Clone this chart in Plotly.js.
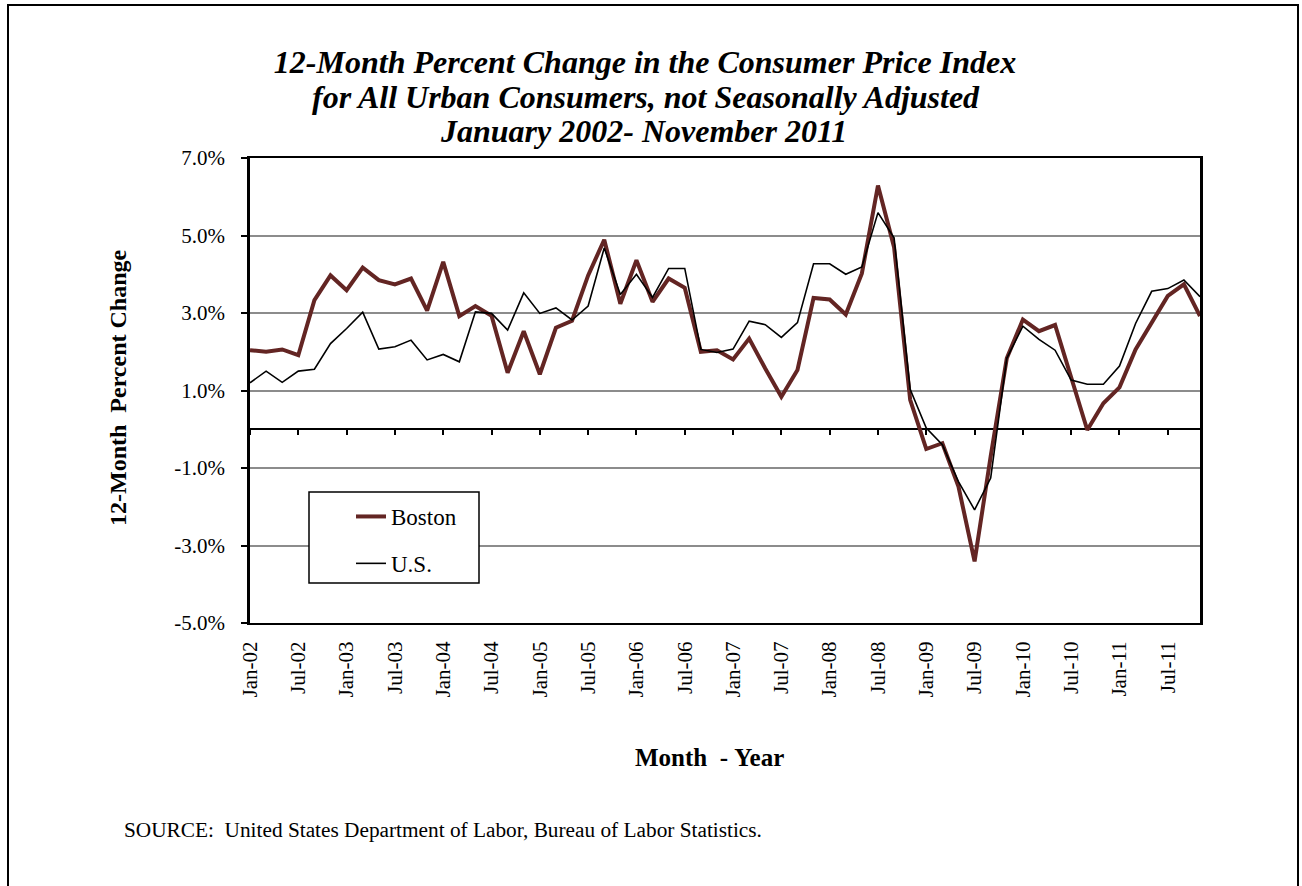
<!DOCTYPE html>
<html>
<head>
<meta charset="utf-8">
<script src="https://cdn.plot.ly/plotly-3.0.1.min.js"></script>
<style>
html, body { margin: 0; padding: 0; background: #ffffff; overflow: hidden; }
#wrap { position: relative; width: 1302px; height: 886px; }
#chart { width: 1302px; height: 886px; }
#frame { position: absolute; left: 7px; top: 4px; width: 1288px; height: 1000px; border: 2px solid #000; pointer-events: none; }
</style>
</head>
<body>
<div id="wrap">
<div id="chart"></div>
<div id="frame"></div>
</div>
<script>
// Bimonthly categories, January 2002 - November 2011
const categories = [
  "Jan-02","Mar-02","May-02","Jul-02","Sep-02","Nov-02",
  "Jan-03","Mar-03","May-03","Jul-03","Sep-03","Nov-03",
  "Jan-04","Mar-04","May-04","Jul-04","Sep-04","Nov-04",
  "Jan-05","Mar-05","May-05","Jul-05","Sep-05","Nov-05",
  "Jan-06","Mar-06","May-06","Jul-06","Sep-06","Nov-06",
  "Jan-07","Mar-07","May-07","Jul-07","Sep-07","Nov-07",
  "Jan-08","Mar-08","May-08","Jul-08","Sep-08","Nov-08",
  "Jan-09","Mar-09","May-09","Jul-09","Sep-09","Nov-09",
  "Jan-10","Mar-10","May-10","Jul-10","Sep-10","Nov-10",
  "Jan-11","Mar-11","May-11","Jul-11","Sep-11","Nov-11"
];

// 12-month percent change, Boston
const boston = [
  2.04, 2.00, 2.06, 1.91, 3.33, 3.97,
  3.59, 4.17, 3.85, 3.74, 3.89, 3.06,
  4.32, 2.92, 3.18, 2.93, 1.46, 2.53,
  1.42, 2.62, 2.80, 3.97, 4.89, 3.24,
  4.36, 3.29, 3.89, 3.65, 2.00, 2.04,
  1.80, 2.34, 1.57, 0.84, 1.53, 3.39,
  3.35, 2.96, 4.02, 6.29, 4.70, 0.76,
  -0.51, -0.36, -1.48, -3.41, -0.70, 1.83,
  2.83, 2.53, 2.69, 1.30, -0.02, 0.67,
  1.08, 2.06, 2.73, 3.44, 3.74, 2.92
];

// 12-month percent change, U.S.
const us = [
  1.20, 1.50, 1.21, 1.50, 1.55, 2.21,
  2.60, 3.02, 2.07, 2.13, 2.30, 1.79,
  1.93, 1.74, 3.03, 2.99, 2.56, 3.52,
  2.99, 3.13, 2.82, 3.18, 4.68, 3.48,
  4.00, 3.40, 4.15, 4.15, 2.06, 1.98,
  2.07, 2.79, 2.70, 2.37, 2.75, 4.27,
  4.27, 4.00, 4.19, 5.59, 4.94, 1.03,
  0.03, -0.40, -1.35, -2.08, -1.26, 1.83,
  2.66, 2.32, 2.04, 1.27, 1.16, 1.16,
  1.63, 2.73, 3.56, 3.63, 3.85, 3.42
];

// Axis tick labels
const xTickLabels = ["Jan-02","Jul-02","Jan-03","Jul-03","Jan-04","Jul-04","Jan-05","Jul-05",
  "Jan-06","Jul-06","Jan-07","Jul-07","Jan-08","Jul-08","Jan-09","Jul-09",
  "Jan-10","Jul-10","Jan-11","Jul-11"];
const yTickVals = [-5, -3, -1, 1, 3, 5, 7];
const yTickText = ["-5.0%","-3.0%","-1.0%","1.0%","3.0%","5.0%","7.0%"];

const seriesNames = ["Boston", "U.S."];
const titleLines = [
  "12-Month Percent Change in the Consumer Price Index",
  "for All Urban Consumers, not Seasonally Adjusted",
  "January 2002- November 2011"
];
const yTitle = "12-Month\u00A0\u00A0Percent\u00A0Change";
const xTitle = "Month\u00A0\u00A0-\u00A0Year";
const sourceText = "SOURCE:\u00A0\u00A0United States Department of Labor, Bureau of Labor Statistics.";

const FONT = "'Liberation Serif', 'Times New Roman', Times, serif";

// page-pixel helpers for placing text in plot-area (paper) fractions
const PL = 250, PR = 1200, PT = 158, PB = 623;
const px = v => (v - PL) / (PR - PL);
const py = v => (PB - v) / (PB - PT);

const traces = [
  {
    x: categories, y: boston, name: seriesNames[0], type: "scatter", mode: "lines",
    xaxis: "x", yaxis: "y",
    line: { color: "#632523", width: 4 },
    legendgroup: "a", hoverinfo: "x+y+name"
  },
  {
    x: categories, y: us, name: seriesNames[1], type: "scatter", mode: "lines",
    xaxis: "x2", yaxis: "y",
    line: { color: "#000000", width: 1.6 },
    legendgroup: "b", hoverinfo: "x+y+name"
  }
];

const catAxisBase = {
  type: "category",
  categoryorder: "array",
  categoryarray: categories,
  range: [0, categories.length - 1],
  fixedrange: true
};

const titleFont = { family: FONT, size: 32, weight: "bold", style: "italic", color: "#000000" };

const layout = {
  width: 1302, height: 886,
  paper_bgcolor: "#ffffff", plot_bgcolor: "#ffffff",
  font: { family: FONT, color: "#000000", size: 21 },
  margin: { l: PL, r: 1302 - PR, t: PT, b: 886 - PB, pad: 0 },
  showlegend: true,
  title: {
    text: titleLines[0],
    font: titleFont,
    xref: "container", x: 645 / 1302, xanchor: "center",
    yref: "container", y: 1 - 62 / 886, yanchor: "middle"
  },
  xaxis: Object.assign({}, catAxisBase, {
    showline: true, mirror: true, linecolor: "#000000", linewidth: 2,
    showgrid: false, zeroline: false,
    ticks: "", tickmode: "array", tickvals: xTickLabels, ticktext: xTickLabels,
    tickangle: -90, ticklabelstandoff: 8,
    tickfont: { family: FONT, size: 21, color: "#000000" }
  }),
  xaxis2: Object.assign({}, catAxisBase, {
    overlaying: "x", anchor: "free", position: 5 / 12, side: "bottom",
    showline: false, showgrid: false, zeroline: false,
    ticks: "outside", ticklen: 5, tickwidth: 2, tickcolor: "#000000",
    tickmode: "array", tickvals: xTickLabels, showticklabels: false
  }),
  yaxis: {
    range: [-5, 7], fixedrange: true,
    showline: true, mirror: true, linecolor: "#000000", linewidth: 2.5,
    showgrid: true, gridcolor: "#8c8c8c", gridwidth: 1.5,
    zeroline: true, zerolinecolor: "#000000", zerolinewidth: 2,
    ticks: "outside", ticklen: 6, tickwidth: 1.5, tickcolor: "#000000",
    tickmode: "array", tickvals: yTickVals, ticktext: yTickText,
    ticklabelstandoff: 12,
    tickfont: { family: FONT, size: 21, color: "#000000" }
  },
  legend: {
    x: px(351), y: py(495), xanchor: "left", yanchor: "top",
    bgcolor: "rgba(0,0,0,0)", borderwidth: 0,
    font: { family: FONT, size: 23, color: "#000000" },
    traceorder: "grouped", tracegroupgap: 14
  },
  shapes: [
    // legend frame
    {
      type: "rect", xref: "paper", yref: "paper", layer: "above",
      x0: px(309), x1: px(479), y0: py(583), y1: py(492),
      line: { color: "#000000", width: 1.5 }, fillcolor: "#ffffff"
    }
  ],
  annotations: [
    {
      text: titleLines[1], showarrow: false,
      xref: "paper", yref: "paper", x: px(646), y: py(97),
      xanchor: "center", yanchor: "middle", font: titleFont
    },
    {
      text: titleLines[2], showarrow: false,
      xref: "paper", yref: "paper", x: px(643), y: py(131),
      xanchor: "center", yanchor: "middle", font: titleFont
    },
    {
      text: yTitle, textangle: -90, showarrow: false,
      xref: "paper", yref: "paper", x: px(118), y: py(388),
      xanchor: "center", yanchor: "middle",
      font: { family: FONT, size: 24, weight: "bold", color: "#000000" }
    },
    {
      text: xTitle, showarrow: false,
      xref: "paper", yref: "paper", x: px(709), y: py(757),
      xanchor: "center", yanchor: "middle",
      font: { family: FONT, size: 25, weight: "bold", color: "#000000" }
    },
    {
      text: sourceText, showarrow: false,
      xref: "paper", yref: "paper", x: px(122), y: py(830),
      xanchor: "left", yanchor: "middle",
      font: { family: FONT, size: 21.3, color: "#000000" }
    }
  ]
};

Plotly.newPlot("chart", traces, layout, { displayModeBar: false, responsive: false });
</script>
</body>
</html>
